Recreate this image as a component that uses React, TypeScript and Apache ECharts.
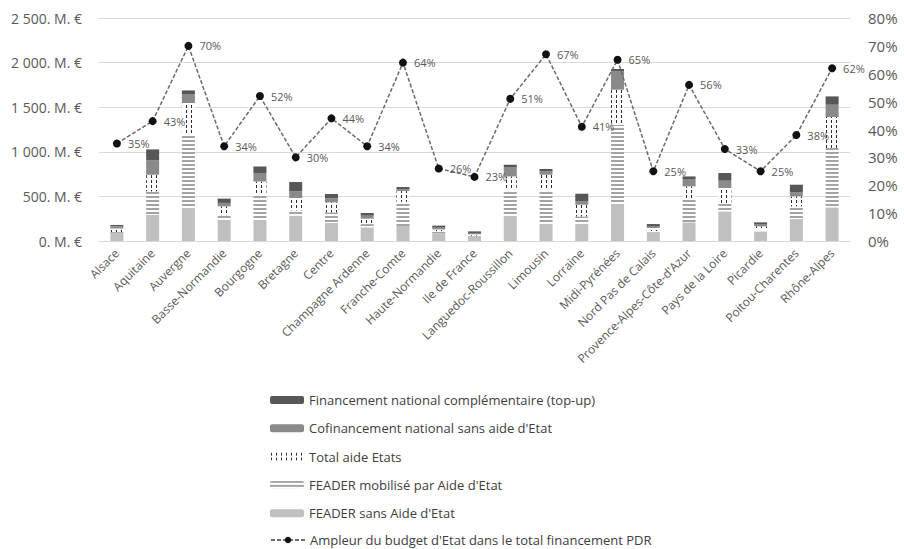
import React, { useEffect, useRef } from "react";
import * as echarts from "echarts";

// Regions (PDR) and their financing breakdown, in M€
const regions = [
  "Alsace", "Aquitaine", "Auvergne", "Basse-Normandie", "Bourgogne", "Bretagne",
  "Centre", "Champagne Ardenne", "Franche-Comte", "Haute-Normandie", "Ile de France",
  "Languedoc-Roussillon", "Limousin", "Lorraine", "Midi-Pyrénées", "Nord Pas de Calais",
  "Provence-Alpes-Côte-d'Azur", "Pays de la Loire", "Picardie", "Poitou-Charentes", "Rhône-Alpes",
];

const feaderSansAide = [85, 295, 370, 239, 239, 284, 202, 153, 168, 85, 50, 284, 194, 194, 418, 97, 209, 332, 108, 246, 377];
const feaderMobilise = [15, 261, 822, 50, 280, 59, 119, 37, 272, 25, 10, 291, 381, 82, 886, 15, 254, 94, 15, 142, 666];
const totalAideEtats = [40, 187, 355, 100, 149, 139, 112, 60, 120, 20, 15, 149, 168, 131, 392, 34, 149, 168, 41, 112, 347];
const cofinancement = [25, 160, 101, 38, 94, 74, 45, 34, 20, 20, 15, 105, 37, 37, 205, 22, 83, 82, 20, 45, 138];
const topUp = [15, 124, 40, 48, 74, 105, 49, 30, 25, 22, 18, 26, 27, 86, 27, 22, 29, 86, 25, 86, 93];

// Share of State budget in total PDR financing (%)
const ampleur = [35, 43, 70, 34, 52, 30, 44, 34, 64, 26, 23, 51, 67, 41, 65, 25, 56, 33, 25, 38, 62];

const leftTicks = { min: 0, max: 2500, interval: 500 };
const rightTicks = { min: 0, max: 80, interval: 10 };

const NAME_TOPUP = "Financement national complémentaire (top-up)";
const NAME_COFIN = "Cofinancement national sans aide d'Etat";
const NAME_AIDE = "Total aide Etats";
const NAME_MOB = "FEADER mobilisé par Aide d'Etat";
const NAME_SANS = "FEADER sans Aide d'Etat";
const NAME_LINE = "Ampleur du budget d'Etat dans le total financement PDR";

const FONT = "'Open Sans', 'Noto Sans', sans-serif";

function makePattern(w: number, h: number, draw: (ctx: CanvasRenderingContext2D) => void) {
  const c = document.createElement("canvas");
  c.width = w;
  c.height = h;
  const ctx = c.getContext("2d")!;
  draw(ctx);
  return { image: c, repeat: "repeat" as const };
}

function formatEuro(v: number) {
  const s = String(v).replace(/\B(?=(\d{3})+(?!\d))/g, " ");
  return `${s}. M. €`;
}

export default function App() {
  const ref = useRef<HTMLDivElement>(null);

  useEffect(() => {
    if (!ref.current) return;
    const chart = echarts.init(ref.current, null, { renderer: "svg" });

    const stripes = makePattern(4, 4, (ctx) => {
      ctx.fillStyle = "#ffffff";
      ctx.fillRect(0, 0, 4, 4);
      ctx.fillStyle = "#a3a3a3";
      ctx.fillRect(0, 0, 4, 2);
    });
    const dashes = makePattern(5, 5, (ctx) => {
      ctx.fillStyle = "#ffffff";
      ctx.fillRect(0, 0, 5, 5);
      ctx.fillStyle = "#2b2b2b";
      ctx.fillRect(1, 0, 1, 3);
    });

    const barBase = {
      type: "bar" as const,
      stack: "pdr",
      barWidth: 13,
      yAxisIndex: 0,
    };

    const legendBase = {
      orient: "vertical" as const,
      left: 270,
      padding: 0,
      itemWidth: 34,
      itemHeight: 8,
      itemGap: 12.3,
      textStyle: { fontSize: 13, color: "#404040", fontFamily: FONT, lineHeight: 16 },
    };

    chart.setOption({
      animation: false,
      textStyle: { fontFamily: FONT },
      grid: { left: 99, right: 54, top: 18, bottom: 308 },
      legend: [
        {
          ...legendBase,
          top: 392,
          data: [NAME_TOPUP, NAME_COFIN, NAME_AIDE, NAME_MOB, NAME_SANS],
        },
        {
          ...legendBase,
          top: 532,
          data: [NAME_LINE],
        },
      ],
      xAxis: {
        type: "category",
        data: regions,
        axisLine: { show: true, lineStyle: { color: "#d9d9d9" } },
        axisTick: { show: false },
        axisLabel: {
          rotate: 45,
          interval: 0,
          fontSize: 12,
          color: "#595959",
          margin: 10,
          fontFamily: FONT,
        },
      },
      yAxis: [
        {
          type: "value",
          ...leftTicks,
          axisLine: { show: false },
          axisTick: { show: false },
          splitLine: { lineStyle: { color: "#d9d9d9" } },
          axisLabel: {
            fontSize: 14,
            color: "#595959",
            margin: 17,
            fontFamily: FONT,
            formatter: (v: number) => formatEuro(v),
          },
        },
        {
          type: "value",
          ...rightTicks,
          axisLine: { show: false },
          axisTick: { show: false },
          splitLine: { show: false },
          axisLabel: {
            fontSize: 15,
            color: "#595959",
            margin: 18,
            fontFamily: FONT,
            formatter: "{value}%",
          },
        },
      ],
      series: [
        {
          ...barBase,
          name: NAME_SANS,
          data: feaderSansAide,
          itemStyle: { color: "#c0c0c0" },
        },
        {
          ...barBase,
          name: NAME_MOB,
          data: feaderMobilise,
          itemStyle: { color: stripes },
        },
        {
          ...barBase,
          name: NAME_AIDE,
          data: totalAideEtats,
          itemStyle: { color: dashes },
        },
        {
          ...barBase,
          name: NAME_COFIN,
          data: cofinancement,
          itemStyle: { color: "#8a8a8a" },
        },
        {
          ...barBase,
          name: NAME_TOPUP,
          data: topUp,
          itemStyle: { color: "#575757" },
        },
        {
          type: "line",
          name: NAME_LINE,
          yAxisIndex: 1,
          data: ampleur,
          symbol: "circle",
          symbolSize: 8,
          itemStyle: { color: "#111111" },
          lineStyle: { color: "#6b6b6b", width: 1.5, type: [4, 2] },
          label: {
            show: true,
            position: "right",
            distance: 7,
            formatter: "{c}%",
            fontSize: 11,
            color: "#595959",
            fontFamily: FONT,
          },
          z: 5,
        },
      ],
    });

    return () => chart.dispose();
  }, []);

  return (
    <div
      ref={ref}
      style={{ position: "absolute", left: 0, top: 0, width: 904, height: 549 }}
    />
  );
}
